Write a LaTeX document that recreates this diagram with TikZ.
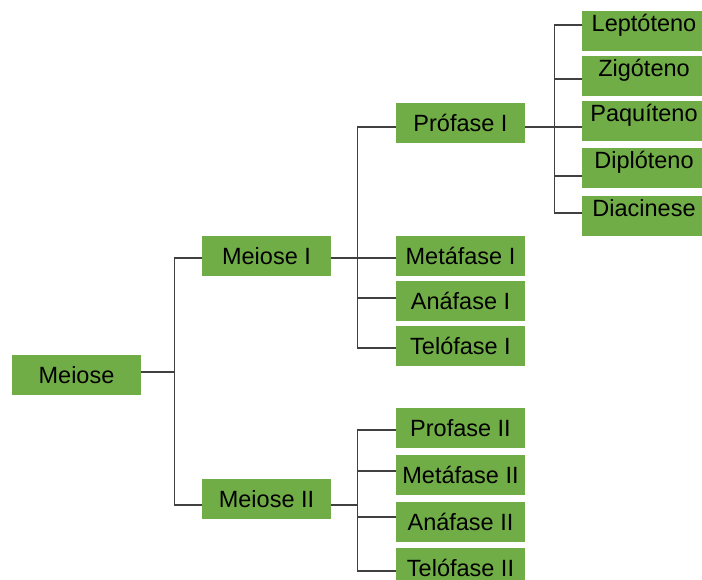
\documentclass[tikz,border=0pt]{standalone}
\usepackage{fontspec}
\setmainfont{Liberation Sans}
\definecolor{boxgreen}{RGB}{112,173,71}
\begin{document}
\begin{tikzpicture}[
  x=1pt, y=-1pt,
  phase/.style={fill=boxgreen, minimum width=129pt, minimum height=40pt, inner sep=0pt,
    font=\fontsize{23.5}{28}\selectfont, text height=17pt, text depth=0pt},
  subphase/.style={phase, minimum width=124pt, text depth=15pt},
  link/.style={draw=black!75, line width=1.3pt}
]
  \clip (0,0) rectangle (702,580);

  % Meiose
  \node[phase] (meiose) at (76.5,375) {Meiose};
  \node[phase] (meioseI) at (266.5,256) {Meiose I};
  \node[phase] (meioseII) at (266.5,499) {Meiose II};
  \draw[link] ([yshift=3pt]meiose.east) -- ++(34,0);
  \draw[link] ([yshift=-2pt]meioseI.west) -- ++(-27,0) |- ([yshift=-6pt]meioseII.west);

  % Meiose I
  \node[phase] (profaseI) at (460.5,123.5) {Prófase I};
  \node[phase] (metafaseI) at (460.5,256) {Metáfase I};
  \node[phase] (anafaseI) at (460.5,301) {Anáfase I};
  \node[phase] (telofaseI) at (460.5,346) {Telófase I};
  \draw[link] ([yshift=-2pt]meioseI.east) -- ([yshift=-2pt]metafaseI.west);
  \draw[link] ([yshift=-3.5pt]profaseI.west) -- ++(-38,0) |- ([yshift=-2pt]telofaseI.west);
  \draw[link] ([yshift=3pt]anafaseI.west) -- ++(-38,0);

  % Meiose II
  \node[phase] (profaseII) at (460.5,428) {Profase II};
  \node[phase] (metafaseII) at (460.5,474.5) {Metáfase II};
  \node[phase] (anafaseII) at (460.5,522) {Anáfase II};
  \node[phase] (telofaseII) at (460.5,568) {Telófase II};
  \draw[link] ([yshift=-6pt]meioseII.east) -- ++(27,0);
  \draw[link] ([yshift=-2pt]profaseII.west) -- ++(-38,0) |- ([yshift=-3pt]telofaseII.west);
  \foreach \n/\dy in {metafaseII/3.5, anafaseII/5}
    \draw[link] ([yshift=\dy pt]\n.west) -- ++(-38,0);

  % Profase I
  \node[subphase] (leptoteno) at (644,31) {Leptóteno};
  \node[subphase] (zigoteno) at (644,76) {Zigóteno};
  \node[subphase] (paquiteno) at (644,121) {Paquíteno};
  \node[subphase] (diploteno) at (644,168) {Diplóteno};
  \node[subphase] (diacinese) at (644,216) {Diacinese};
  \draw[link] ([yshift=-3.5pt]profaseI.east) -- ([yshift=-6pt]paquiteno.west);
  \draw[link] ([yshift=6pt]leptoteno.west) -- ++(-27,0) |- ([yshift=3pt]diacinese.west);
  \foreach \n/\dy in {zigoteno/-3, diploteno/-8}
    \draw[link] ([yshift=\dy pt]\n.west) -- ++(-27,0);
\end{tikzpicture}
\end{document}
